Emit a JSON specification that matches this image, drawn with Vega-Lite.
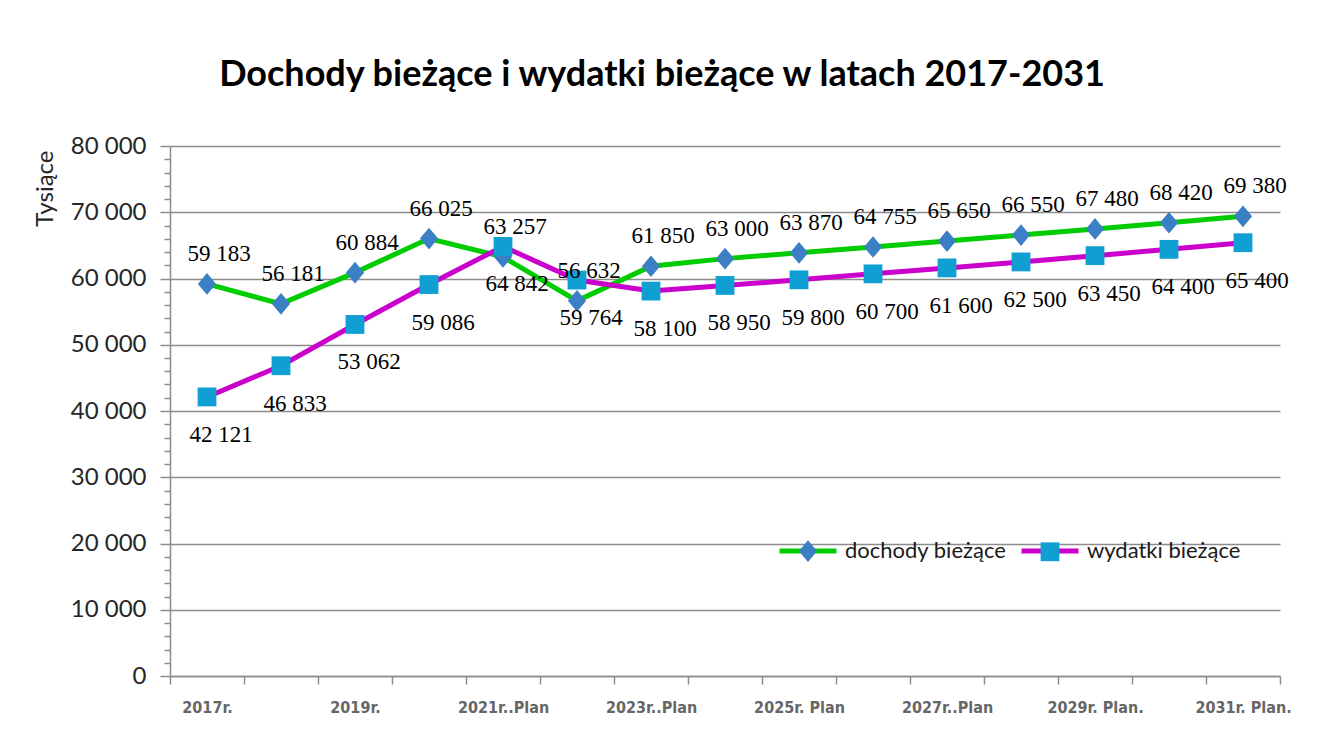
{
  "$schema": "https://vega.github.io/schema/vega-lite/v6.json",
  "width": 1110,
  "height": 530,
  "autosize": {"type": "none"},
  "padding": {"left": 170, "top": 146, "right": 51, "bottom": 60},
  "background": "white",
  "config": {
    "locale": {"number": {"decimal": ",", "thousands": " ", "grouping": [3], "currency": ["", " zł"]}},
    "view": {"stroke": null},
    "legend": {
      "orient": "none",
      "legendX": 607,
      "legendY": 374,
      "direction": "horizontal",
      "labelFont": "Lato",
      "labelFontSize": 22,
      "labelColor": "#1a1a1a",
      "labelLimit": 400,
      "symbolSize": 3249,
      "symbolStrokeWidth": 5,
      "labelOffset": 6,
      "columnPadding": 4,
      "padding": 0
    }
  },
  "title": {
    "text": "Dochody bieżące i wydatki bieżące w latach 2017-2031",
    "font": "Lato",
    "fontSize": 36,
    "fontWeight": "bold",
    "color": "#000000",
    "anchor": "middle",
    "frame": "bounds",
    "offset": 40
  },
  "data": {
    "values": [
      {"rok": "2017r.", "dochody bieżące": 59183, "wydatki bieżące": 42121},
      {"rok": "2018r.", "dochody bieżące": 56181, "wydatki bieżące": 46833},
      {"rok": "2019r.", "dochody bieżące": 60884, "wydatki bieżące": 53062},
      {"rok": "2020r.", "dochody bieżące": 66025, "wydatki bieżące": 59086},
      {"rok": "2021r..Plan", "dochody bieżące": 63257, "wydatki bieżące": 64842},
      {"rok": "2022r..Plan", "dochody bieżące": 56632, "wydatki bieżące": 59764},
      {"rok": "2023r..Plan", "dochody bieżące": 61850, "wydatki bieżące": 58100},
      {"rok": "2024r..Plan", "dochody bieżące": 63000, "wydatki bieżące": 58950},
      {"rok": "2025r. Plan", "dochody bieżące": 63870, "wydatki bieżące": 59800},
      {"rok": "2026r. Plan", "dochody bieżące": 64755, "wydatki bieżące": 60700},
      {"rok": "2027r..Plan", "dochody bieżące": 65650, "wydatki bieżące": 61600},
      {"rok": "2028r..Plan", "dochody bieżące": 66550, "wydatki bieżące": 62500},
      {"rok": "2029r. Plan.", "dochody bieżące": 67480, "wydatki bieżące": 63450},
      {"rok": "2030r. Plan.", "dochody bieżące": 68420, "wydatki bieżące": 64400},
      {"rok": "2031r. Plan.", "dochody bieżące": 69380, "wydatki bieżące": 65400}
    ]
  },
  "transform": [
    {"fold": ["dochody bieżące", "wydatki bieżące"], "as": ["seria", "wartosc"]},
    {"calculate": "datum.seria", "as": "seria2"}
  ],
  "encoding": {
    "x": {
      "field": "rok",
      "type": "nominal",
      "sort": null,
      "bandPosition": 0.5,
      "scale": {"type": "band", "paddingInner": 0, "paddingOuter": 0},
      "axis": {
        "title": null,
        "tickBand": "extent",
        "labelExpr": "toNumber(slice(datum.label, 0, 4)) % 2 === 1 ? datum.label : ''",
        "labelFont": "DejaVu Sans Condensed",
        "labelFontWeight": "bold",
        "labelFontSize": 16,
        "labelColor": "#666666",
        "labelAngle": 0,
        "labelPadding": 15,
        "tickSize": 8,
        "tickColor": "#8c8c8c",
        "tickWidth": 1.5,
        "domainColor": "#8c8c8c",
        "domainWidth": 1.5,
        "grid": false
      }
    },
    "y": {
      "field": "wartosc",
      "type": "quantitative",
      "scale": {"domain": [0, 80000], "nice": false},
      "axis": {
        "title": "Tysiące",
        "titleFont": "Lato",
        "titleFontSize": 24,
        "titleFontWeight": "normal",
        "titleColor": "#262626",
        "titleAngle": -90,
        "titleX": -125,
        "titleY": 4,
        "titleAlign": "right",
        "titleBaseline": "middle",
        "values": [0, 2000, 4000, 6000, 8000, 10000, 12000, 14000, 16000, 18000, 20000, 22000, 24000, 26000, 28000, 30000, 32000, 34000, 36000, 38000, 40000, 42000, 44000, 46000, 48000, 50000, 52000, 54000, 56000, 58000, 60000, 62000, 64000, 66000, 68000, 70000, 72000, 74000, 76000, 78000, 80000],
        "format": ",d",
        "labelExpr": "datum.value % 10000 === 0 ? datum.label : ''",
        "labelFont": "Lato",
        "labelFontSize": 24,
        "labelColor": "#262626",
        "labelPadding": 14,
        "tickSize": {"condition": {"test": "datum.value % 10000 === 0", "value": 10}, "value": 6},
        "tickColor": "#8c8c8c",
        "tickWidth": 1.5,
        "domainColor": "#8c8c8c",
        "domainWidth": 1.5,
        "grid": true,
        "gridColor": "#8c8c8c",
        "gridWidth": 1.3,
        "gridOpacity": {"condition": {"test": "datum.value % 10000 === 0", "value": 1}, "value": 0}
      }
    }
  },
  "layer": [
    {
      "mark": {"type": "line", "strokeWidth": 5},
      "encoding": {
        "color": {
          "field": "seria",
          "type": "nominal",
          "scale": {"domain": ["dochody bieżące", "wydatki bieżące"], "range": ["#00cc00", "#cc00cc"]},
          "legend": {"title": null, "symbolType": "stroke"}
        }
      }
    },
    {
      "mark": {"type": "point", "filled": true, "size": 3249, "opacity": 1, "strokeWidth": 0},
      "encoding": {
        "shape": {
          "field": "seria2",
          "type": "nominal",
          "scale": {"range": ["M-1,0M1,0M0,-0.38L0.32,0L0,0.38L-0.32,0Z", "M-1,0M1,0M-0.33,-0.33H0.33V0.33H-0.33Z"]},
          "legend": {"title": null, "labelOpacity": 0, "symbolStrokeColor": "transparent", "symbolOpacity": 1}
        },
        "fill": {
          "field": "seria2",
          "type": "nominal",
          "scale": {"range": ["#3b7fc4", "#0f9fd3"]},
          "legend": {"title": null, "labelOpacity": 0, "symbolStrokeColor": "transparent", "symbolOpacity": 1}
        }
      }
    },
    {
      "transform": [{"filter": "datum.seria === 'dochody bieżące'"}],
      "mark": {"type": "text", "font": "Liberation Serif", "fontSize": 23, "dx": 12, "dy": -30, "baseline": "middle", "align": "center", "color": "#000000"},
      "encoding": {"text": {"field": "wartosc", "type": "quantitative", "format": ",d"}}
    },
    {
      "transform": [{"filter": "datum.seria === 'wydatki bieżące'"}],
      "mark": {"type": "text", "font": "Liberation Serif", "fontSize": 23, "dx": 14, "dy": 38, "baseline": "middle", "align": "center", "color": "#000000"},
      "encoding": {"text": {"field": "wartosc", "type": "quantitative", "format": ",d"}}
    }
  ]
}
